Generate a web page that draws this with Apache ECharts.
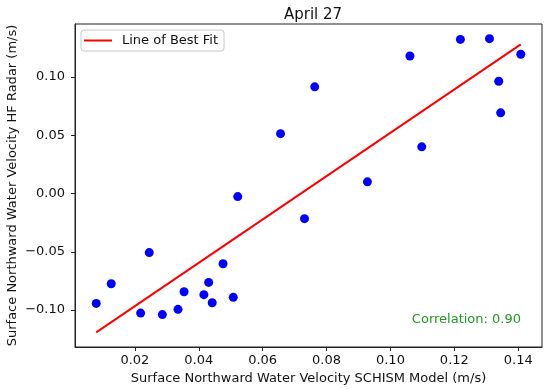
<!DOCTYPE html>
<html>
<head>
<meta charset="utf-8">
<script src="https://cdn.jsdelivr.net/npm/echarts@6/dist/echarts.min.js"></script>
<style>
  html, body { margin: 0; padding: 0; background: #fff; }
  #chart { width: 550px; height: 389px; }
</style>
</head>
<body>
<div id="chart"></div>
<script>
// Data
var modelVelocity = [0.0656, 0.0522, 0.0763, 0.1061, 0.1219, 0.1310, 0.1408, 0.1339, 0.1345, 0.1098, 0.0928, 0.0731,
                     0.0245, 0.0476, 0.0126, 0.0431, 0.0354, 0.0416, 0.0508, 0.0442, 0.0079, 0.0335, 0.0218, 0.0286];
var radarVelocity = [0.0513, -0.0027, 0.0915, 0.1179, 0.1322, 0.1328, 0.1194, 0.0963, 0.0692, 0.0400, 0.0100, -0.0216,
                     -0.0507, -0.0603, -0.0774, -0.0763, -0.0843, -0.0868, -0.0891, -0.0937, -0.0943, -0.0994, -0.1026, -0.1039];
var xTicks = [0.02, 0.04, 0.06, 0.08, 0.10, 0.12, 0.14];
var yTicks = [-0.10, -0.05, 0.00, 0.05, 0.10];
var titleText = 'April 27';
var correlationText = 'Correlation: 0.90';

// least-squares line of best fit computed from the data
var n = modelVelocity.length, sx = 0, sy = 0, sxx = 0, sxy = 0;
for (var i = 0; i < n; i++) {
  sx += modelVelocity[i]; sy += radarVelocity[i];
  sxx += modelVelocity[i] * modelVelocity[i]; sxy += modelVelocity[i] * radarVelocity[i];
}
var slope = (n * sxy - sx * sy) / (n * sxx - sx * sx);
var intercept = (sy - slope * sx) / n;
var xMin = Math.min.apply(null, modelVelocity), xMax = Math.max.apply(null, modelVelocity);
var fitLine = [[xMin, intercept + slope * xMin], [xMax, intercept + slope * xMax]];

// matplotlib-like 5% margins around data limits
var allY = radarVelocity.concat([fitLine[0][1], fitLine[1][1]]);
var yLo = Math.min.apply(null, allY), yHi = Math.max.apply(null, allY);
var xPad = (xMax - xMin) * 0.05, yPad = (yHi - yLo) * 0.05;

var scatterData = modelVelocity.map(function (x, k) { return [x, radarVelocity[k]]; });

var font = 'DejaVu Sans';
var chart = echarts.init(document.getElementById('chart'), null, { renderer: 'canvas' });
chart.setOption({
  animation: false,
  backgroundColor: '#ffffff',
  title: {
    text: titleText, left: 308, top: 3, textAlign: 'center',
    textStyle: { fontFamily: font, fontSize: 15, fontWeight: 'normal', color: '#111' }
  },
  grid: { left: 75, right: 8, top: 24, bottom: 42, show: true, borderColor: '#222', borderWidth: 1,
          containLabel: false, outerBoundsMode: 'none' },
  legend: {
    data: [{ name: 'Line of Best Fit', icon: 'rect' }], left: 81, top: 30, orient: 'vertical',
    itemWidth: 28, itemHeight: 2, itemGap: 8,
    padding: [4, 6, 4, 3],
    borderColor: '#c8c8c8', borderWidth: 1, borderRadius: 3, backgroundColor: '#ffffff',
    textStyle: { fontFamily: font, fontSize: 13, color: '#111', padding: [0, 0, 0, 5] }
  },
  xAxis: {
    type: 'value', min: xMin - xPad, max: xMax + xPad,
    name: 'Surface Northward Water Velocity SCHISM Model (m/s)', nameLocation: 'middle', nameGap: 25,
    nameMoveOverlap: false,
    nameTextStyle: { fontFamily: font, fontSize: 13, color: '#111' },
    splitLine: { show: false },
    axisLine: { show: true, onZero: false, lineStyle: { color: '#222', width: 1 } },
    axisTick: { show: true, inside: false, length: 4, customValues: xTicks, lineStyle: { color: '#222' } },
    axisLabel: { customValues: xTicks, margin: 7, fontFamily: font, fontSize: 13, color: '#111',
                 formatter: function (v) { return v.toFixed(2); } }
  },
  yAxis: {
    type: 'value', min: yLo - yPad, max: yHi + yPad,
    name: 'Surface Northward Water Velocity HF Radar (m/s)', nameLocation: 'middle', nameGap: 56,
    nameMoveOverlap: false,
    nameTextStyle: { fontFamily: font, fontSize: 13, color: '#111' },
    splitLine: { show: false },
    axisLine: { show: true, onZero: false, lineStyle: { color: '#222', width: 1 } },
    axisTick: { show: true, inside: false, length: 4, customValues: yTicks, lineStyle: { color: '#222' } },
    axisLabel: { customValues: yTicks, margin: 10, fontFamily: font, fontSize: 13, color: '#111',
                 formatter: function (v) { return (v < 0 ? '\u2212' : '') + Math.abs(v).toFixed(2); } }
  },
  graphic: [{
    type: 'text', right: 29, top: 313,
    style: { text: correlationText, fontFamily: font, fontSize: 13, fill: '#229922' }
  }],
  series: [
    {
      name: 'Scatter', type: 'scatter', data: scatterData, symbol: 'circle', symbolSize: 9,
      itemStyle: { color: '#0000ff', opacity: 1 }, z: 3
    },
    {
      name: 'Line of Best Fit', type: 'line', data: fitLine, symbol: 'none', showSymbol: false,
      lineStyle: { color: '#ff0000', width: 2 }, itemStyle: { color: '#ff0000' }, z: 2
    }
  ]
});
</script>
</body>
</html>
